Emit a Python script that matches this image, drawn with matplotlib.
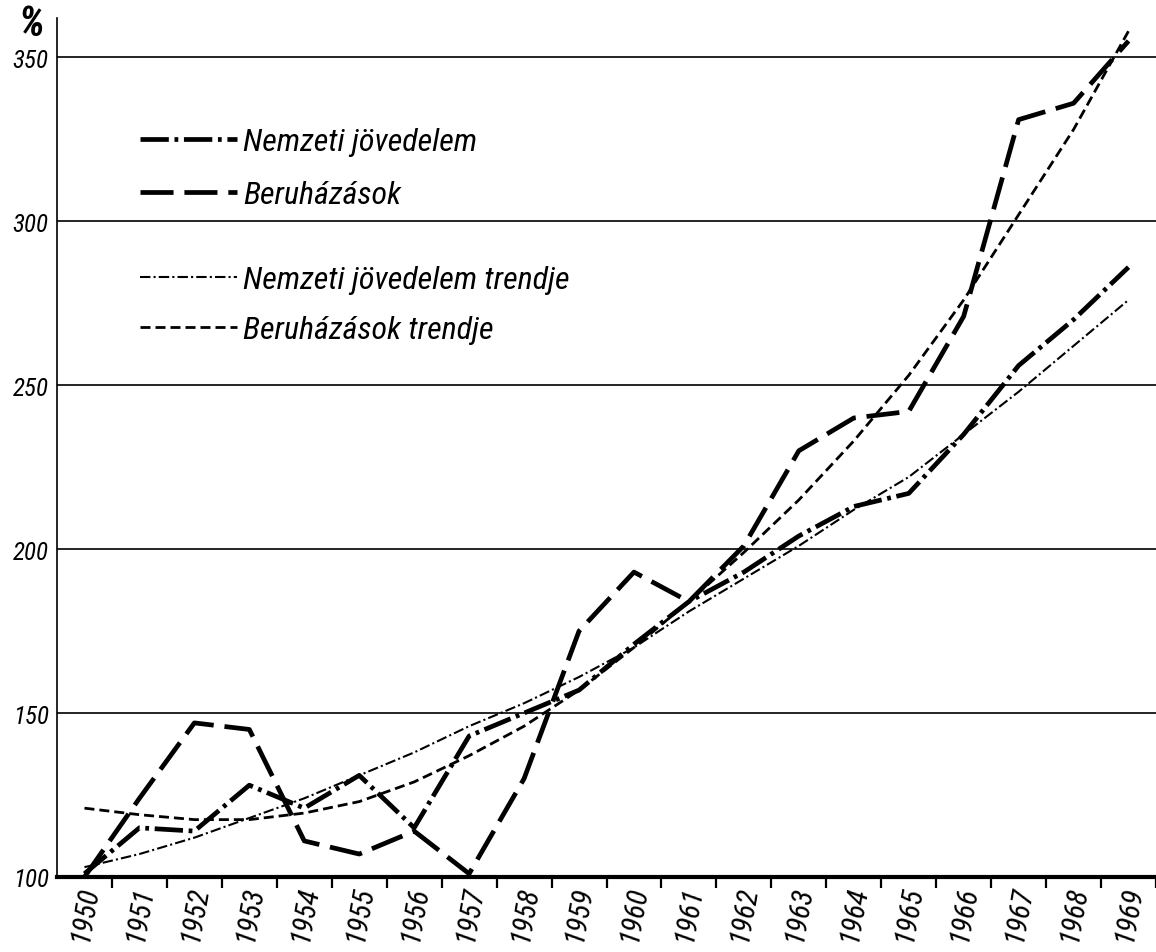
import matplotlib
matplotlib.use("Agg")
import matplotlib.pyplot as plt
import matplotlib.font_manager as fm
from matplotlib.ticker import FixedLocator, NullFormatter


# Data (1950 = 100 %)
years = list(range(1950, 1970))
year_labels = [str(y) for y in years]

nemzeti = [101, 115, 114, 128, 121, 131, 115, 143, 150, 157,
           171, 184, 193, 204, 213, 217, 235, 256, 270, 286]
beruhazas = [100, 124, 147, 145, 111, 107, 114, 101, 130, 175,
             193, 184, 201, 230, 240, 242, 271, 331, 336, 355]
nemzeti_trend = [103, 107, 112, 118, 124, 131, 138, 146, 153, 161,
                 170, 181, 191, 201, 212, 222, 235, 248, 262, 276]
beruhazas_trend = [121, 119, 117.5, 117.5, 119.5, 123, 129, 137, 146, 157,
                   170, 184, 199, 215, 233, 253, 276, 302, 328, 358]

y_ticks = [100, 150, 200, 250, 300, 350]

n_nj = "Nemzeti jövedelem"
n_ber = "Beruházások"
n_nj_trend = "Nemzeti jövedelem trendje"
n_ber_trend = "Beruházások trendje"


# the original uses a narrow italic face - take one if the box has it
names = {f.name for f in fm.fontManager.ttflist}
narrow_name = None
for n in ["Liberation Sans Narrow", "Roboto Condensed", "Open Sans Condensed",
          "Noto Sans Condensed", "DejaVu Sans Condensed"]:
    if n in names:
        narrow_name = n
        break
#end_for

if narrow_name is not None:
    narrow = [narrow_name, "DejaVu Sans"]
    leg_size = 23
    ylab_size = 18
    xlab_size = 21
else:
    narrow = ["DejaVu Sans"]
    leg_size = 18
    ylab_size = 16
    xlab_size = 16
#end_if


fig = plt.figure(figsize=(11.56, 9.53), dpi=100)
ax = fig.add_axes([57 / 1156, 75 / 953, 1099 / 1156, 859 / 953])

l1, = ax.plot(years, nemzeti, color="k", lw=3.4,
              linestyle=(0, (6, 1.2, 0.8, 1.2)), dash_capstyle="butt")
l2, = ax.plot(years, beruhazas, color="k", lw=3.4,
              linestyle=(0, (7, 2.3)), dash_capstyle="butt")
l3, = ax.plot(years, nemzeti_trend, color="k", lw=1.5,
              linestyle=(0, (5, 1.5, 1, 1.5)), dash_capstyle="butt")
l4, = ax.plot(years, beruhazas_trend, color="k", lw=2.0,
              linestyle=(0, (3.6, 1.8)), dash_capstyle="butt")

leg_font = dict(family=narrow, style="italic", size=leg_size)
em = leg_size * 100 / 72.0
ax_h = 859.0


def legend_at(handles, labels, row_y, pitch):
	top = row_y - 0.41 * em
	return ax.legend(handles, labels, loc="upper left",
	                 bbox_to_anchor=(83 / 1099, (878 - top) / ax_h),
	                 frameon=False, prop=leg_font,
	                 handlelength=97 / em, handletextpad=6 / em,
	                 labelspacing=(pitch - 0.97 * em) / em,
	                 borderpad=0, borderaxespad=0)
#end_def


leg1 = legend_at([l1, l2], [n_nj, n_ber], 141, 55)
ax.add_artist(leg1)
leg2 = legend_at([l3, l4], [n_nj_trend, n_ber_trend], 279, 52)

# axes
ax.set_xlim(1949.5, 1969.5)
ax.set_ylim(100, 362)

ax.xaxis.set_major_locator(FixedLocator([y + 0.5 for y in years]))
ax.xaxis.set_major_formatter(NullFormatter())
ax.set_xticks(years, minor=True)
ax.set_xticklabels(year_labels, minor=True, rotation=80, ha="center", va="top",
                   fontsize=xlab_size, style="italic", family=narrow)
ax.tick_params(axis="x", which="major", length=8, width=1.6, direction="out")
ax.tick_params(axis="x", which="minor", length=0, pad=4)

ax.set_yticks(y_ticks)
ax.set_yticklabels([str(v) for v in y_ticks], fontsize=ylab_size, style="italic",
                   family=narrow)
ax.tick_params(axis="y", length=0, pad=6)

ax.grid(axis="y", color="k", lw=1.2)
ax.set_axisbelow(True)

ax.spines["top"].set_visible(False)
ax.spines["right"].set_visible(False)
ax.spines["bottom"].set_linewidth(3)
ax.spines["left"].set_linewidth(1.2)

fig.text(31 / 1156, 1 - 4 / 953, "%", ha="center", va="top", fontsize=30,
         style="italic", fontweight="bold", family=narrow)

fig.savefig("out.png", dpi=100)
